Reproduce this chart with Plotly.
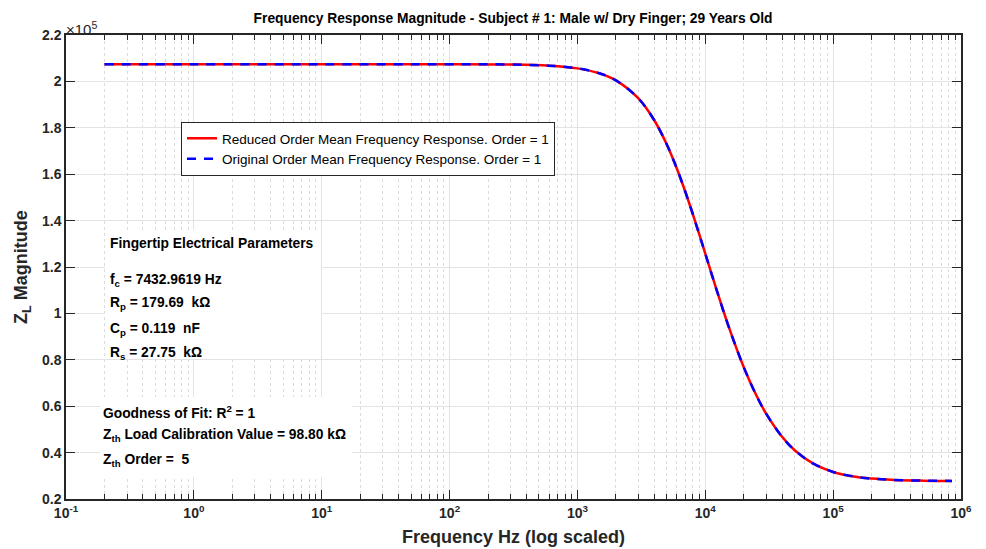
import plotly.graph_objects as go

# ---- data ----
freq_hz = [0.2, 1, 10, 100, 300, 600, 1000, 1500, 2000, 3000, 4000, 5000, 6000, 7000,
           8000, 9000, 10000, 12000, 15000, 20000, 25000, 30000, 40000, 50000, 70000,
           100000, 150000, 200000, 300000, 500000, 850000]
z_reduced = [207440, 207440, 207440, 207421, 207274, 206780, 205622, 203415, 200445,
             192644, 183143, 172817, 162353, 152209, 142656, 133818, 125738, 111753,
             95403, 76804, 64828, 56696, 46697, 41034, 35232, 31658, 29557, 28783,
             28213, 27918, 27808]
z_original = [207440, 207440, 207440, 207421, 207274, 206780, 205622, 203415, 200445,
              192644, 183143, 172817, 162353, 152209, 142656, 133818, 125738, 111753,
              95403, 76804, 64828, 56696, 46697, 41034, 35232, 31658, 29557, 28783,
              28213, 27918, 27808]

x_tick_vals = [0.1, 1, 10, 100, 1000, 10000, 100000, 1000000]
x_tick_text = ["10<sup>-1</sup>", "10<sup>0</sup>", "10<sup>1</sup>", "10<sup>2</sup>",
               "10<sup>3</sup>", "10<sup>4</sup>", "10<sup>5</sup>", "10<sup>6</sup>"]
y_tick_vals = [20000, 40000, 60000, 80000, 100000, 120000, 140000, 160000, 180000, 200000, 220000]
y_tick_text = ["0.2", "0.4", "0.6", "0.8", "1", "1.2", "1.4", "1.6", "1.8", "2", "2.2"]

legend_names = ["Reduced Order Mean Frequency Response. Order = 1",
                "Original Order Mean Frequency Response. Order = 1"]
title_text = "Frequency Response Magnitude - Subject # 1: Male w/ Dry Finger; 29 Years Old"

FONT = "Liberation Sans, Arial, sans-serif"
OFF = 8  # page body margin of the browser
PAGE_W, PAGE_H = 986, 549
W, H = PAGE_W - OFF, PAGE_H - OFF
PL, PR, PT, PB = 66, 961, 35, 499  # plot area in page pixels
L, T = PL - OFF, PT - OFF
R, B = PAGE_W - PR, PAGE_H - PB
PW, PH = PR - PL, PB - PT


def px_x(p):
    return (p - PL) / PW


def px_y(p):
    return (PB - p) / PH


minor_vals = [m * 10 ** k for k in range(-1, 6) for m in range(2, 10)]

fig = go.Figure()
fig.add_trace(go.Scatter(x=freq_hz, y=z_reduced, mode="lines", name=legend_names[0],
                         line=dict(color="#ff0000", width=2.5, shape="spline")))
fig.add_trace(go.Scatter(x=freq_hz, y=z_original, mode="lines", name=legend_names[1],
                         line=dict(color="#0000ff", width=2.5, dash="9px,8px", shape="spline")))

axis_common = dict(showline=True, linecolor="#262626", linewidth=1.5, mirror="ticks",
                   ticks="inside", tickcolor="#262626", ticklen=9, tickwidth=1.3,
                   showgrid=True, gridcolor="#e3e3e3", gridwidth=1.3, zeroline=False,
                   tickfont=dict(family=FONT, size=14, color="#262626", weight="bold"))

fig.update_xaxes(type="log", range=[-1, 6], tickmode="array", tickvals=x_tick_vals,
                 ticktext=x_tick_text,
                 minor=dict(tickmode="array", tickvals=minor_vals, ticks="inside", ticklen=5,
                            tickcolor="#262626", showgrid=True, gridcolor="#dcdcdc",
                            griddash="dot", gridwidth=1),
                 **axis_common)
fig.update_yaxes(range=[20000, 220000], tickmode="array", tickvals=y_tick_vals,
                 ticktext=y_tick_text, **axis_common)

shapes = [
    dict(type="rect", xref="paper", yref="paper", x0=px_x(105), x1=px_x(321),
         y0=px_y(359), y1=px_y(230), fillcolor="white", line=dict(width=0), layer="above"),
    dict(type="rect", xref="paper", yref="paper", x0=px_x(100), x1=px_x(352),
         y0=px_y(477), y1=px_y(397), fillcolor="white", line=dict(width=0), layer="above"),
]

ann_font = dict(family=FONT, size=13.8, color="#000000", weight="bold")
annotations = []


def add_text(text, xp, yp, font=ann_font, **kw):
    annotations.append(dict(text=text, xref="paper", yref="paper", x=px_x(xp), y=px_y(yp),
                            xanchor="left", yanchor="middle", showarrow=False, font=font, **kw))


add_text("Fingertip Electrical Parameters", 108, 243)
add_text("f<sub>c</sub> = 7432.9619 Hz", 108, 280)
add_text("R<sub>p</sub> = 179.69  kΩ", 108, 304)
add_text("C<sub>p</sub> = 0.119  nF", 108, 329)
add_text("R<sub>s</sub> = 27.75  kΩ", 108, 353)
add_text("Goodness of Fit: R<sup>2</sup> = 1", 101, 412)
add_text("Z<sub>th</sub> Load Calibration Value = 98.80 kΩ", 101, 435)
add_text("Z<sub>th</sub> Order =  5", 101, 460)
add_text("×10<sup>5</sup>", 64, 29, font=dict(family=FONT, size=15, color="#262626"))

annotations.append(dict(text="Z<sub>L</sub> Magnitude", xref="paper", yref="paper",
                        x=px_x(22), y=px_y(267), xanchor="center", yanchor="middle",
                        textangle=-90, showarrow=False,
                        font=dict(family=FONT, size=18, color="#262626", weight="bold")))
annotations.append(dict(text="Frequency Hz (log scaled)", xref="paper", yref="paper",
                        x=px_x(513), y=px_y(537), xanchor="center", yanchor="middle",
                        showarrow=False,
                        font=dict(family=FONT, size=18, color="#262626", weight="bold")))

fig.update_layout(
    width=W, height=H,
    margin=dict(l=L, r=R, t=T, b=B),
    paper_bgcolor="white", plot_bgcolor="white",
    title=dict(text=title_text, x=px_x(513), xref="paper", xanchor="center",
               y=1 - (18 - OFF) / H, yref="container", yanchor="middle",
               font=dict(family=FONT, size=13.8, color="#000000", weight="bold")),
    legend=dict(x=px_x(181), y=px_y(122), xanchor="left", yanchor="top",
                bgcolor="white", bordercolor="#262626", borderwidth=1,
                font=dict(family=FONT, size=13.5, color="#000000"),
                tracegroupgap=0, itemwidth=30),
    shapes=shapes,
    annotations=annotations,
    showlegend=True,
)

fig.write_html("out.html")
